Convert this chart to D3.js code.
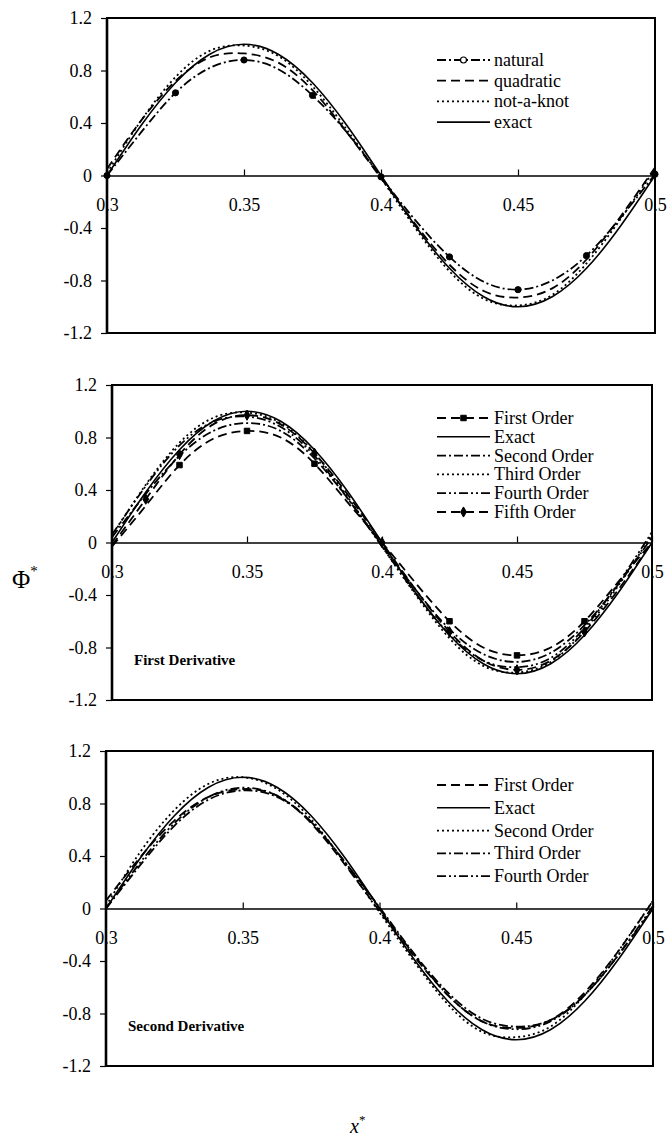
<!DOCTYPE html>
<html>
<head>
<meta charset="utf-8">
<script src="https://d3js.org/d3.v7.min.js"></script>
<style>
  body { margin: 0; background: #fff; }
  svg text { font-family: "Liberation Serif", "Times New Roman", Times, serif; fill: #000; }
</style>
</head>
<body>
<div id="chart"></div>
<script>

// x positions of the plotted nodes (shared by every curve)
var xs = [0.3, 0.3125, 0.325, 0.3375, 0.35, 0.3625, 0.375, 0.3875, 0.4,
          0.4125, 0.425, 0.4375, 0.45, 0.4625, 0.475, 0.4875, 0.5];

var xTicks = [0.3, 0.35, 0.4, 0.45, 0.5];
var xTickLabels = ["0.3", "0.35", "0.4", "0.45", "0.5"];
var yTicks = [1.2, 0.8, 0.4, 0, -0.4, -0.8, -1.2];
var yTickLabels = ["1.2", "0.8", "0.4", "0", "-0.4", "-0.8", "-1.2"];

var exact = [0, 0.383, 0.707, 0.924, 1.0, 0.924, 0.707, 0.383, 0,
             -0.383, -0.707, -0.924, -1.0, -0.924, -0.707, -0.383, 0];

// panel 1 : interpolation end conditions
var natural   = [0.0, 0.33, 0.63, 0.82, 0.88, 0.81, 0.61, 0.33, -0.01,
                 -0.34, -0.62, -0.81, -0.87, -0.80, -0.61, -0.32, 0.01];
var quadratic = [0.05, 0.42, 0.72, 0.90, 0.93, 0.86, 0.65, 0.33, -0.02,
                 -0.37, -0.68, -0.88, -0.93, -0.86, -0.64, -0.31, 0.06];
var notAKnot  = [0.02, 0.42, 0.75, 0.95, 0.99, 0.91, 0.68, 0.35, -0.02,
                 -0.40, -0.73, -0.94, -0.99, -0.91, -0.67, -0.33, 0.05];

// panel 2 : first derivative
var d1First  = [-0.03, 0.28, 0.59, 0.79, 0.85, 0.80, 0.60, 0.30, 0.0,
                -0.31, -0.60, -0.80, -0.86, -0.80, -0.60, -0.30, 0.0];
var d1Second = [0.04, 0.37, 0.66, 0.85, 0.91, 0.85, 0.64, 0.33, -0.02,
                -0.36, -0.66, -0.85, -0.91, -0.84, -0.63, -0.32, 0.04];
var d1Third  = [0.05, 0.44, 0.76, 0.95, 0.99, 0.91, 0.68, 0.34, -0.03,
                -0.40, -0.73, -0.94, -0.99, -0.91, -0.67, -0.33, 0.06];
var d1Fourth = [0.06, 0.43, 0.74, 0.92, 0.96, 0.88, 0.66, 0.33, -0.03,
                -0.39, -0.70, -0.90, -0.95, -0.88, -0.65, -0.31, 0.08];
var d1Fifth  = [-0.02, 0.33, 0.67, 0.90, 0.97, 0.90, 0.68, 0.36, 0.0,
                -0.36, -0.68, -0.90, -0.97, -0.90, -0.68, -0.36, 0.0];

// panel 3 : second derivative
var d2First  = [0.06, 0.39, 0.67, 0.85, 0.91, 0.86, 0.65, 0.33, -0.02,
                -0.36, -0.66, -0.86, -0.91, -0.85, -0.64, -0.32, 0.06];
var d2Second = [0.02, 0.43, 0.75, 0.95, 1.0, 0.91, 0.68, 0.34, -0.03,
                -0.40, -0.73, -0.94, -0.98, -0.90, -0.66, -0.32, 0.06];
var d2Third  = [0.0, 0.33, 0.63, 0.83, 0.90, 0.85, 0.66, 0.35, 0.01,
                -0.34, -0.64, -0.84, -0.90, -0.85, -0.66, -0.35, 0.0];
var d2Fourth = [0.0, 0.35, 0.65, 0.85, 0.92, 0.86, 0.66, 0.35, 0.0,
                -0.35, -0.66, -0.86, -0.92, -0.86, -0.66, -0.35, 0.02];

// which nodes carry a marker
var markEvery025 = [0.3, 0.325, 0.35, 0.375, 0.4, 0.425, 0.45, 0.475, 0.5];
var markFirst    = [0.325, 0.35, 0.375, 0.425, 0.45, 0.475];
var markFifth    = [0.3125, 0.325, 0.35, 0.375, 0.4, 0.425, 0.45, 0.475];

// line styles
var SOLID = null, DASH = "9,5", DOT = "2,3", DASHDOT = "9,3,2,3", DASHDOTDOT = "9,3,2,3,2,3";

var panels = [
  { top: 18, left: 107, right: 655, legendY: 60, legendStep: 20.7, note: null,
    series: [
      { name: "natural",    values: natural,   dash: DASHDOT, marker: "circle", marks: markEvery025 },
      { name: "quadratic",  values: quadratic, dash: DASH },
      { name: "not-a-knot", values: notAKnot,  dash: DOT },
      { name: "exact",      values: exact,     dash: SOLID }
    ] },
  { top: 385, left: 112, right: 652, legendY: 418, legendStep: 18.8, note: "First Derivative",
    series: [
      { name: "First Order",  values: d1First,  dash: DASH, marker: "square", marks: markFirst },
      { name: "Exact",        values: exact,    dash: SOLID },
      { name: "Second Order", values: d1Second, dash: DASHDOT },
      { name: "Third Order",  values: d1Third,  dash: DOT },
      { name: "Fourth Order", values: d1Fourth, dash: DASHDOTDOT },
      { name: "Fifth Order",  values: d1Fifth,  dash: DASH, marker: "diamond", marks: markFifth }
    ] },
  { top: 751, left: 106, right: 653, legendY: 785, legendStep: 22.8, note: "Second Derivative",
    series: [
      { name: "First Order",  values: d2First,  dash: DASH },
      { name: "Exact",        values: exact,    dash: SOLID },
      { name: "Second Order", values: d2Second, dash: DOT },
      { name: "Third Order",  values: d2Third,  dash: DASHDOT },
      { name: "Fourth Order", values: d2Fourth, dash: DASHDOTDOT }
    ] }
];

var W = 669, H = 1141, panelH = 315;
var SERIF = "'Liberation Serif', 'Times New Roman', Times, serif";

var svg = d3.select("#chart").append("svg")
    .attr("width", W)
    .attr("height", H)
    .attr("font-family", SERIF);

var symbolOf = {
  circle: d3.symbolCircle,
  square: d3.symbolSquare,
  diamond: d3.symbolDiamond
};

function drawMarker(g, type, cx, cy, size) {
  g.append("path")
    .attr("d", d3.symbol().type(symbolOf[type]).size(size)())
    .attr("transform", "translate(" + cx + "," + cy + ")")
    .attr("fill", "#000")
    .attr("stroke", "#000");
}

panels.forEach(function(p) {
  var x = d3.scaleLinear().domain([0.3, 0.5]).range([p.left, p.right]);
  var y = d3.scaleLinear().domain([-1.2, 1.2]).range([p.top + panelH, p.top]);
  var g = svg.append("g");

  // y axis ticks and labels
  g.append("g")
      .attr("transform", "translate(" + p.left + ",0)")
      .call(d3.axisLeft(y)
          .tickValues(yTicks)
          .tickSize(6)
          .tickPadding(9)
          .tickFormat(function(d, i) { return yTickLabels[i]; }))
      .call(function(a) {
        a.attr("font-family", SERIF).attr("font-size", 18);
        a.select(".domain").remove();
        a.selectAll("line").attr("stroke-width", 1.2);
      });

  // x axis through zero, ticks pointing up, labels below
  g.append("g")
      .attr("transform", "translate(0," + y(0) + ")")
      .call(d3.axisBottom(x)
          .tickValues(xTicks)
          .tickSize(-6)
          .tickSizeOuter(0)
          .tickPadding(23)
          .tickFormat(function(d, i) { return xTickLabels[i]; }))
      .call(function(a) {
        a.attr("font-family", SERIF).attr("font-size", 18);
        a.select(".domain").attr("stroke-width", 1.5);
        a.selectAll("line").attr("stroke-width", 1.2);
      });

  // curves
  var line = d3.line()
      .x(function(d, i) { return x(xs[i]); })
      .y(function(d) { return y(d); })
      .curve(d3.curveNatural);

  p.series.forEach(function(s) {
    g.append("path")
        .datum(s.values)
        .attr("d", line)
        .attr("fill", "none")
        .attr("stroke", "#000")
        .attr("stroke-width", s.dash === SOLID ? 1.6 : 1.8)
        .attr("stroke-dasharray", s.dash);
    if (s.marker) {
      s.marks.forEach(function(mx) {
        var i = xs.indexOf(mx);
        drawMarker(g, s.marker, x(mx), y(s.values[i]), 30);
      });
    }
  });

  // frame on top so the border runs through the end labels like the original
  g.append("rect")
      .attr("x", p.left)
      .attr("y", p.top)
      .attr("width", p.right - p.left)
      .attr("height", panelH)
      .attr("fill", "none")
      .attr("stroke", "#000")
      .attr("stroke-width", 2);
  g.append("line")
      .attr("x1", p.left).attr("x2", p.left)
      .attr("y1", p.top).attr("y2", p.top + panelH)
      .attr("stroke", "#000")
      .attr("stroke-width", 2.6);

  // legend
  var lx0 = 437, lx1 = 490;
  p.series.forEach(function(s, i) {
    var ly = p.legendY + i * p.legendStep;
    g.append("line")
        .attr("x1", lx0).attr("x2", lx1)
        .attr("y1", ly).attr("y2", ly)
        .attr("stroke", "#000")
        .attr("stroke-width", s.dash === SOLID ? 1.6 : 1.8)
        .attr("stroke-dasharray", s.dash);
    if (s.marker) {
      if (s.marker === "circle") {
        g.append("circle")
            .attr("cx", (lx0 + lx1) / 2).attr("cy", ly).attr("r", 3)
            .attr("fill", "#fff").attr("stroke", "#000").attr("stroke-width", 1.2);
      } else {
        drawMarker(g, s.marker, (lx0 + lx1) / 2, ly, 30);
      }
    }
    g.append("text")
        .attr("x", lx1 + 4)
        .attr("y", ly)
        .attr("dy", "0.33em")
        .attr("font-size", 18)
        .text(s.name);
  });

  if (p.note) {
    g.append("text")
        .attr("x", p.left + 22)
        .attr("y", p.top + 280)
        .attr("font-size", 15)
        .attr("font-weight", "bold")
        .text(p.note);
  }
});

// axis titles
svg.append("text")
    .attr("x", 12)
    .attr("y", 588)
    .attr("font-size", 25)
    .text("Φ")
  .append("tspan")
    .attr("dy", -12)
    .attr("font-size", 15)
    .text("*");

svg.append("text")
    .attr("x", 350)
    .attr("y", 1133)
    .attr("font-size", 20)
    .attr("font-style", "italic")
    .text("x")
  .append("tspan")
    .attr("dy", -9)
    .attr("font-size", 13)
    .attr("font-style", "normal")
    .text("*");

</script>
</body>
</html>
